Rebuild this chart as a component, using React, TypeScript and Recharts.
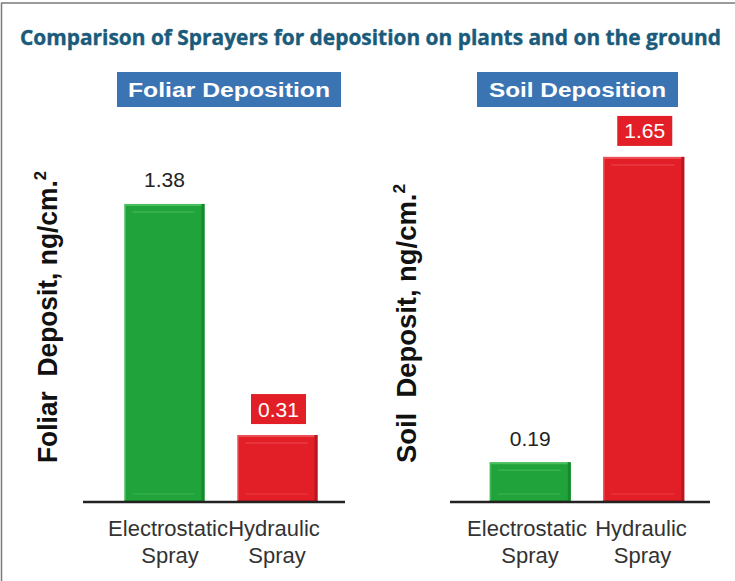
import React from 'react';
import { BarChart, Bar, XAxis, YAxis, Cell, LabelList } from 'recharts';

const categories = ['Electrostatic Spray', 'Hydraulic Spray'];
const categoryLines = [['Electrostatic', 'Spray'], ['Hydraulic', 'Spray']];
const foliarValues = [1.38, 0.31];
const soilValues = [0.19, 1.65];
const barColors = ['#21a33b', '#e21f27'];
const barDark = ['#16892c', '#b9171e'];
const barLight = ['#55c566', '#f05a60'];

const foliarData = categories.map((c, i) => ({ name: c, value: foliarValues[i] }));
const soilData = categories.map((c, i) => ({ name: c, value: soilValues[i] }));

const FONT = '"Liberation Sans", Arial, Helvetica, sans-serif';

function BevelBar(props: any) {
  const { x, y, width, height, index } = props;
  if (!width || !height) return null;
  const c = barColors[index];
  const d = barDark[index];
  const l = barLight[index];
  return (
    <g>
      <rect x={x} y={y} width={width} height={height} fill={c} />
      <rect x={x} y={y} width={width} height={2} fill={l} opacity={0.8} />
      <rect x={x + width - 3} y={y} width={3} height={height} fill={d} />
      <rect x={x} y={y} width={1.5} height={height} fill={l} opacity={0.6} />
      <line x1={x + 8} x2={x + width - 10} y1={y + 8} y2={y + 8} stroke={l} strokeWidth={1.5} opacity={0.5} />
      <line x1={x + 8} x2={x + width - 10} y1={y + height - 8} y2={y + height - 8} stroke={l} strokeWidth={1.5} opacity={0.35} />
      <rect x={x} y={y + height - 2} width={width} height={2} fill={d} opacity={0.6} />
    </g>
  );
}

function ValueLabel(props: any) {
  const { x, y, width, value, index } = props;
  const cx = x + width / 2;
  const txt = Number(value).toFixed(2);
  if (index === 1) {
    const bh = 30;
    const bw = 55;
    const by = y - 11 - bh;
    return (
      <g>
        <rect x={cx - bw / 2 + 1} y={by} width={bw} height={bh} fill={barColors[1]} />
        <text x={cx + 1} y={by + bh / 2 + 7.5} textAnchor="middle" fontFamily={FONT} fontSize={21} fill="#ffffff">
          {txt}
        </text>
      </g>
    );
  }
  return (
    <text x={cx} y={y - 16.5} textAnchor="middle" fontFamily={FONT} fontSize={21} fill="#222222">
      {txt}
    </text>
  );
}

function CategoryTick(props: any) {
  const { x, y, payload, index, shifts } = props;
  const lines = categoryLines[index] || [String(payload.value)];
  const s = shifts[index];
  return (
    <g>
      <text x={x + s[0]} y={y + 34} textAnchor="middle" fontFamily={FONT} fontSize={22} fill="#333333">
        {lines[0]}
      </text>
      <text x={x + s[1]} y={y + 61} textAnchor="middle" fontFamily={FONT} fontSize={22} fill="#333333">
        {lines[1]}
      </text>
    </g>
  );
}

function Panel(props: { data: any[]; width: number; marginLeft: number; marginRight: number; domainMax: number; padL: number; padR: number; barSize: number; shifts: number[][] }) {
  const { data, width, marginLeft, marginRight, domainMax, padL, padR, barSize, shifts } = props;
  return (
    <BarChart width={width} height={581} data={data} margin={{ top: 145, left: marginLeft, right: marginRight, bottom: 0 }} barSize={barSize}>
      <XAxis
        dataKey="name"
        height={79}
        padding={{ left: padL, right: padR }}
        axisLine={{ stroke: '#222222', strokeWidth: 2.5 }}
        tickLine={false}
        tickSize={0}
        tickMargin={0}
        interval={0}
        tick={<CategoryTick shifts={shifts} />}
      />
      <YAxis
        type="number"
        domain={[0, domainMax]}
        allowDataOverflow
        width={0}
        tick={false}
        tickLine={false}
        axisLine={{ stroke: '#222222', strokeWidth: 2.5 }}
      />
      <Bar dataKey="value" isAnimationActive={false} shape={<BevelBar />}>
        {data.map((_, i) => (
          <Cell key={i} fill={barColors[i]} />
        ))}
        <LabelList dataKey="value" content={<ValueLabel />} />
      </Bar>
    </BarChart>
  );
}

export default function App() {
  return (
    <div style={{ position: 'absolute', left: 0, top: 0, width: 735, height: 581, background: '#ffffff', overflow: 'hidden' }}>
      <svg width={735} height={581} style={{ position: 'absolute', left: 0, top: 0 }}>
        <line x1={1} x2={735} y1={3} y2={3} stroke="#7a7a7a" strokeWidth={1.5} />
        <line x1={1.5} x2={1.5} y1={3} y2={581} stroke="#7a7a7a" strokeWidth={1.5} />
        <text x={20} y={44.5} fontFamily='"Open Sans", sans-serif' fontWeight={700} fontSize={21} fill="#1a5b7b" stroke="#1a5b7b" strokeWidth={0.4} textLength={701} lengthAdjust="spacingAndGlyphs">
          Comparison of Sprayers for deposition on plants and on the ground
        </text>
        <rect x={117} y={72} width={224} height={35} fill="#3b74b3" />
        <text x={229} y={96.5} textAnchor="middle" fontFamily={FONT} fontWeight={700} fontSize={19.5} fill="#ffffff" textLength={202} lengthAdjust="spacingAndGlyphs">
          Foliar Deposition
        </text>
        <rect x={477} y={72} width={201} height={35} fill="#3b74b3" />
        <text x={577.5} y={96.5} textAnchor="middle" fontFamily={FONT} fontWeight={700} fontSize={19.5} fill="#ffffff" textLength={177} lengthAdjust="spacingAndGlyphs">
          Soil Deposition
        </text>
        <text transform="translate(57,463) rotate(-90)" fontFamily={FONT} fontWeight={700} fontSize={27} fill="#111111" textLength={292} lengthAdjust="spacingAndGlyphs">
          {'Foliar\u00a0\u00a0Deposit, ng/cm.'}
          <tspan dy={-11} fontSize={17}>2</tspan>
        </text>
        <text transform="translate(416,463) rotate(-90)" fontFamily={FONT} fontWeight={700} fontSize={27} fill="#111111" textLength={279} lengthAdjust="spacingAndGlyphs">
          {'Soil\u00a0\u00a0Deposit, ng/cm.'}
          <tspan dy={-11} fontSize={17}>2</tspan>
        </text>
      </svg>
      <div style={{ position: 'absolute', left: 0, top: 0 }}>
        <Panel data={foliarData} width={360} marginLeft={83} marginRight={15} domainMax={1.653} padL={24.5} padR={11.5} barSize={80} shifts={[[4, 6], [-3, 0]]} />
      </div>
      <div style={{ position: 'absolute', left: 370, top: 0 }}>
        <Panel data={soilData} width={365} marginLeft={80} marginRight={25} domainMax={1.707} padL={23.75} padR={9.25} barSize={81} shifts={[[-3.5, -0.5], [-3, -1.5]]} />
      </div>
    </div>
  );
}
